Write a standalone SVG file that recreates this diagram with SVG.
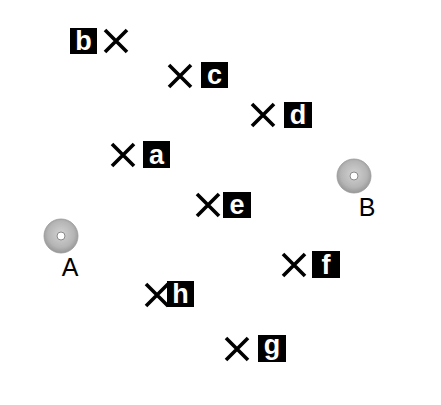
<svg xmlns="http://www.w3.org/2000/svg" width="441" height="405" viewBox="0 0 441 405">
<defs>
<radialGradient id="disc" cx="50%" cy="45%" r="55%">
<stop offset="0" stop-color="#d2d2d2"/>
<stop offset="0.7" stop-color="#b5b5b5"/>
<stop offset="1" stop-color="#979797"/>
</radialGradient>
<g id="x"><path d="M-11,-11 L11,11 M11,-11 L-11,11" stroke="#000" stroke-width="3.6" stroke-linecap="butt" fill="none"/></g>
</defs>
<style>
.box{fill:#000}
.lt{font-family:"Liberation Sans",Arial,sans-serif;font-weight:bold;font-size:27px;fill:#fff;text-anchor:middle}
.pl{font-family:"Liberation Sans",Arial,sans-serif;font-size:25px;fill:#000;text-anchor:middle}
.hole{fill:#fff;stroke:#8a8a8a;stroke-width:1}
</style>
<rect width="441" height="405" fill="#fff"/>
<g id="connectors"></g>
<g id="node-b"><use href="#x" x="116" y="41"/><rect class="box" x="70" y="28" width="27" height="26"/><text class="lt" x="83.5" y="50">b</text></g>
<g id="node-c"><use href="#x" x="180" y="76"/><rect class="box" x="201" y="62" width="27" height="26"/><text class="lt" x="214.5" y="84">c</text></g>
<g id="node-d"><use href="#x" x="263" y="115"/><rect class="box" x="284" y="102" width="28" height="26"/><text class="lt" x="298" y="124">d</text></g>
<g id="node-a"><use href="#x" x="123" y="155"/><rect class="box" x="143" y="141" width="27" height="27"/><text class="lt" x="156.5" y="164">a</text></g>
<g id="node-e"><use href="#x" x="208" y="205"/><rect class="box" x="223" y="192" width="28" height="26"/><text class="lt" x="237" y="214">e</text></g>
<g id="node-f"><use href="#x" x="294" y="265"/><rect class="box" x="312" y="251" width="28" height="27"/><text class="lt" x="326" y="274">f</text></g>
<g id="node-h"><use href="#x" x="157" y="295"/><rect class="box" x="167" y="281" width="27" height="26"/><text class="lt" x="180.5" y="303">h</text></g>
<g id="node-g"><use href="#x" x="237" y="349"/><rect class="box" x="258" y="335" width="28" height="27"/><text class="lt" x="272" y="354">g</text></g>
<g id="node-A"><circle cx="61" cy="236" r="17" fill="url(#disc)" stroke="#999" stroke-width="0.8"/><circle class="hole" cx="61" cy="236" r="4"/><text class="pl" x="70" y="276">A</text></g>
<g id="node-B"><circle cx="354" cy="176" r="17" fill="url(#disc)" stroke="#999" stroke-width="0.8"/><circle class="hole" cx="354" cy="176" r="4"/><text class="pl" x="367" y="216">B</text></g>
</svg>
